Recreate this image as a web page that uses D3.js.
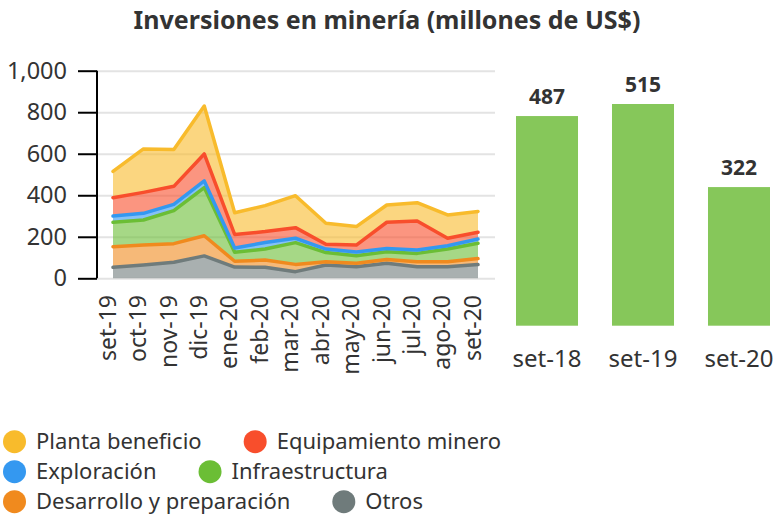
<!DOCTYPE html>
<html lang="es">
<head>
<meta charset="UTF-8">
<title>Inversiones en minería</title>
<script src="https://d3js.org/d3.v7.min.js"></script>
<style>
  body { margin: 0; background: #fff; }
  svg, svg text { font-family: "Noto Sans", "Open Sans", sans-serif; }
  .grid line { stroke: #e3e3e3; stroke-width: 2; }
  .grid path { display: none; }
  text { fill: #333; }
</style>
</head>
<body>
<div id="chart"></div>
<script>
// months for the stacked area
const months = ["set-19","oct-19","nov-19","dic-19","ene-20","feb-20","mar-20","abr-20","may-20","jun-20","jul-20","ago-20","set-20"];

// series values (bottom to top of the stack)
const otros          = [53, 64, 77, 108, 54, 53, 32, 64, 56, 72, 56, 56, 66];
const desarrollo     = [99, 96, 90, 97, 28, 35, 35, 16, 16, 19, 24, 24, 29];
const infraestructura= [118, 121, 159, 232, 43, 53, 105, 44, 37, 37, 40, 61, 74];
const exploracion    = [30, 32, 30, 32, 21, 31, 21, 17, 18, 15, 16, 16, 20];
const equipamiento   = [88, 101, 87, 130, 65, 53, 51, 23, 33, 127, 140, 36, 33];
const planta         = [127, 209, 178, 231, 105, 125, 154, 101, 89, 83, 88, 112, 100];

// totals for the bar chart
const barLabels = ["set-18", "set-19", "set-20"];
const barValues = [487, 515, 322];

const yTicks = [0, 200, 400, 600, 800, 1000];

const series = [
  {key: "otros", name: "Otros", values: otros, color: "#6f7b7b"},
  {key: "desarrollo", name: "Desarrollo y preparación", values: desarrollo, color: "#f08a1e"},
  {key: "infra", name: "Infraestructura", values: infraestructura, color: "#6bbe35"},
  {key: "explo", name: "Exploración", values: exploracion, color: "#3498f0"},
  {key: "equipo", name: "Equipamiento minero", values: equipamiento, color: "#f84e2c"},
  {key: "planta", name: "Planta beneficio", values: planta, color: "#f8bb2c"}
];

const W = 773, H = 518;
const svg = d3.select("#chart").append("svg")
  .attr("width", W).attr("height", H);

// title
svg.append("text")
  .attr("x", 387).attr("y", 29)
  .attr("text-anchor", "middle")
  .style("font-size", "25px").style("font-weight", "bold")
  .text("Inversiones en minería (millones de US$)");

// ---- stacked area ----
const rows = months.map((m, i) => {
  const r = {month: m};
  series.forEach(s => r[s.key] = s.values[i]);
  return r;
});
const stack = d3.stack().keys(series.map(s => s.key));
const layers = stack(rows);

const x = d3.scalePoint().domain(months).range([113, 478]);
const y = d3.scaleLinear().domain([0, 1000]).range([278.3, 70.7]);

svg.append("g")
  .attr("class", "grid")
  .attr("transform", "translate(97,0)")
  .call(d3.axisLeft(y).tickValues(yTicks).tickSize(-398).tickFormat(""));

const area = d3.area()
  .x((d, i) => x(months[i]))
  .y0(d => y(d[0]))
  .y1(d => y(d[1]));
const line = d3.line()
  .x((d, i) => x(months[i]))
  .y(d => y(d[1]));

svg.append("g").selectAll("path")
  .data(layers)
  .join("path")
  .attr("d", area)
  .attr("fill", (d, i) => series[i].color)
  .attr("fill-opacity", 0.6);

svg.append("g").selectAll("path")
  .data(layers)
  .join("path")
  .attr("d", line)
  .attr("fill", "none")
  .attr("stroke", (d, i) => series[i].color)
  .attr("stroke-width", 3.5)
  .attr("stroke-linejoin", "round")
  .attr("stroke-linecap", "round");

// y axis
const yAxis = svg.append("g")
  .attr("transform", "translate(97,0)")
  .call(d3.axisLeft(y).tickValues(yTicks).tickSize(19).tickPadding(11).tickFormat(d3.format(",")));
yAxis.attr("font-family", null);
yAxis.select(".domain").attr("stroke", "#000").attr("stroke-width", 2).attr("d", "M0,278.3V70.7");
yAxis.selectAll(".tick line").attr("stroke", "#000").attr("stroke-width", 2);
yAxis.selectAll(".tick text").style("font-size", "23.5px").attr("fill", "#333");

// month labels
const xAxis = svg.append("g")
  .attr("transform", "translate(0,286)")
  .call(d3.axisBottom(x).tickSize(0).tickPadding(0));
xAxis.attr("font-family", null);
xAxis.select(".domain").remove();
xAxis.selectAll(".tick text")
  .style("font-size", "23px")
  .attr("fill", "#333")
  .attr("text-anchor", "end")
  .attr("transform", "rotate(-90)")
  .attr("x", -9).attr("y", 0).attr("dy", "0.1em");

// ---- bar chart ----
const xb = d3.scaleBand().domain(barLabels).range([516, 770]).paddingInner(0.354).paddingOuter(0);
const yb = d3.scaleLinear().domain([0, 515]).range([325.7, 104]);

svg.append("g").selectAll("rect")
  .data(barValues)
  .join("rect")
  .attr("x", (d, i) => xb(barLabels[i]))
  .attr("y", d => yb(d))
  .attr("width", xb.bandwidth())
  .attr("height", d => yb(0) - yb(d))
  .attr("fill", "#86c75a");

svg.append("g").selectAll("text")
  .data(barValues)
  .join("text")
  .attr("x", (d, i) => xb(barLabels[i]) + xb.bandwidth() / 2)
  .attr("y", d => yb(d) - 12)
  .attr("text-anchor", "middle")
  .style("font-size", "21px").style("font-weight", "bold")
  .text(d => d);

const xbAxis = svg.append("g")
  .attr("transform", "translate(0,336)")
  .call(d3.axisBottom(xb).tickSize(0).tickPadding(0));
xbAxis.attr("font-family", null);
xbAxis.select(".domain").remove();
xbAxis.selectAll(".tick text").style("font-size", "24px").attr("fill", "#333")
  .attr("y", 31).attr("dy", null);

// ---- legend ----
const legendRows = [
  ["planta", "equipo"],
  ["explo", "infra"],
  ["desarrollo", "otros"]
];
const legend = svg.append("g");
legendRows.forEach((keys, r) => {
  let cx = 3;
  const cy = 441.7 + r * 30;
  keys.forEach(k => {
    const s = series.find(d => d.key === k);
    legend.append("circle")
      .attr("cx", cx + 11.5).attr("cy", cy).attr("r", 11.5)
      .attr("fill", s.color);
    const t = legend.append("text")
      .attr("x", cx + 33).attr("y", cy).attr("dy", "0.35em")
      .style("font-size", "22px")
      .text(s.name);
    cx = cx + 33 + t.node().getComputedTextLength() + 42;
  });
});
</script>
</body>
</html>
